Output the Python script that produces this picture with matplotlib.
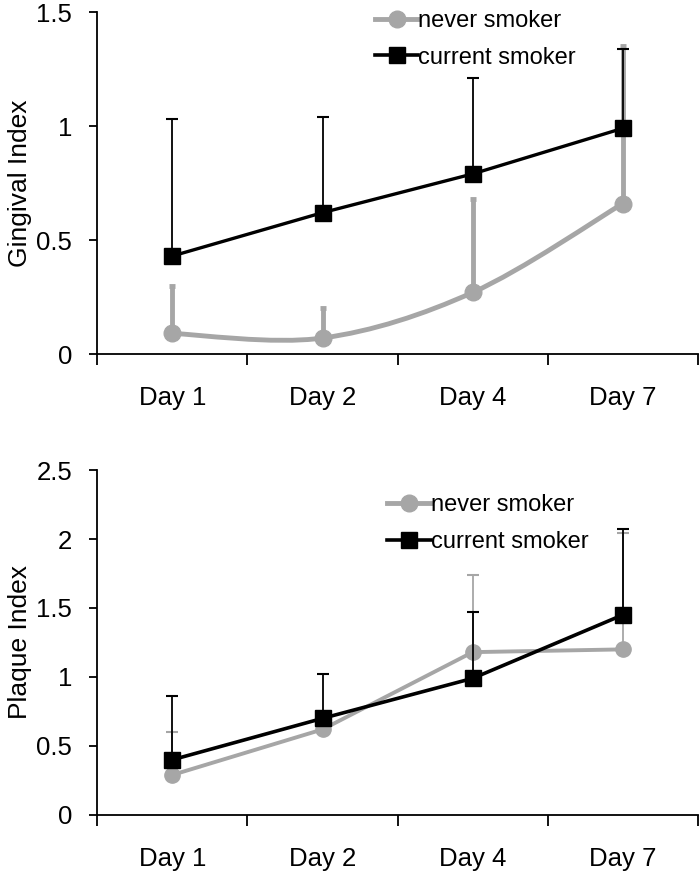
import numpy as np
import matplotlib
matplotlib.use("Agg")
import matplotlib.pyplot as plt
from matplotlib.path import Path
from matplotlib.patches import PathPatch
from matplotlib.lines import Line2D
from matplotlib.ticker import FuncFormatter

plt.rcParams['font.family'] = ['Liberation Sans', 'DejaVu Sans']

# Categories
days = ["Day 1", "Day 2", "Day 4", "Day 7"]

# Gingival index (top panel)
gi_never = [0.09, 0.07, 0.27, 0.66]
gi_never_err = [0.21, 0.13, 0.41, 0.69]
gi_current = [0.43, 0.62, 0.79, 0.99]
gi_current_err = [0.60, 0.42, 0.42, 0.35]

# Plaque index (bottom panel)
pi_never = [0.29, 0.62, 1.18, 1.20]
pi_never_err = [0.31, 0.08, 0.56, 0.84]
pi_current = [0.40, 0.70, 0.99, 1.45]
pi_current_err = [0.46, 0.32, 0.48, 0.62]

GRAY = "#a6a6a6"
BLACK = "#000000"


def smooth_path(x, y):
    # Excel-style smoothed line: cubic bezier through the points
    x = np.asarray(x, float)
    y = np.asarray(y, float)
    n = len(x)
    verts = [(x[0], y[0])]
    codes = [Path.MOVETO]
    for i in range(n - 1):
        p0 = np.array([x[max(i - 1, 0)], y[max(i - 1, 0)]])
        p1 = np.array([x[i], y[i]])
        p2 = np.array([x[i + 1], y[i + 1]])
        p3 = np.array([x[min(i + 2, n - 1)], y[min(i + 2, n - 1)]])
        c1 = p1 + (p2 - p0) / 6
        c2 = p2 - (p3 - p1) / 6
        verts += [tuple(c1), tuple(c2), tuple(p2)]
        codes += [Path.CURVE4] * 3
    return Path(verts, codes)


def style_axes(ax, ymax, ylabel):
    n = len(days)
    ax.set_xlim(-0.5, n - 0.5)
    ax.set_ylim(0, ymax)
    ax.spines['top'].set_visible(False)
    ax.spines['right'].set_visible(False)
    ax.spines['left'].set_linewidth(1.3)
    ax.spines['bottom'].set_linewidth(1.3)
    ax.set_xticks(np.arange(n + 1) - 0.5)
    ax.set_xticklabels([])
    ax.set_xticks(np.arange(n), minor=True)
    ax.set_xticklabels(days, minor=True)
    ax.tick_params(axis='x', which='major', direction='out', length=8, width=1.3)
    ax.tick_params(axis='x', which='minor', length=0, pad=23, labelsize=18.5)
    ax.set_yticks(np.arange(0, ymax + 0.01, 0.5))
    ax.yaxis.set_major_formatter(FuncFormatter(lambda v, p: "%g" % v))
    ax.tick_params(axis='y', direction='out', length=6, width=1.3, labelsize=18.5, pad=12)
    ax.set_ylabel(ylabel, fontsize=19, labelpad=3)


fig = plt.figure(figsize=(7, 8.73), dpi=100)
ax1 = fig.add_axes([0.139, 0.5945, 0.858, 0.3917])
ax2 = fig.add_axes([0.139, 0.0665, 0.858, 0.3951])
x = np.arange(len(days))

# ---- top panel ----
ax1.errorbar(x, gi_never, yerr=[np.zeros(len(x)), gi_never_err], fmt='none',
             ecolor=GRAY, elinewidth=3.5, capsize=2.5, capthick=3.5, zorder=2)
ax1.add_patch(PathPatch(smooth_path(x, gi_never), fill=False, edgecolor=GRAY,
                        lw=3.5, zorder=3))
ax1.plot(x, gi_never, 'o', color=GRAY, ms=12, zorder=3)
ax1.errorbar(x, gi_current, yerr=[np.zeros(len(x)), gi_current_err], fmt='none',
             ecolor=BLACK, elinewidth=1.3, capsize=4, capthick=1.5, zorder=4)
ax1.plot(x, gi_current, '-s', color=BLACK, lw=2.4, ms=11, zorder=5)
style_axes(ax1, 1.5, "Gingival Index")

# ---- bottom panel ----
ax2.errorbar(x, pi_never, yerr=[np.zeros(len(x)), pi_never_err], fmt='none',
             ecolor=GRAY, elinewidth=1.3, capsize=4, capthick=1.5, zorder=2)
ax2.plot(x, pi_never, '-o', color=GRAY, lw=2.8, ms=11, zorder=3)
ax2.errorbar(x, pi_current, yerr=[np.zeros(len(x)), pi_current_err], fmt='none',
             ecolor=BLACK, elinewidth=1.3, capsize=4, capthick=1.5, zorder=4)
ax2.plot(x, pi_current, '-s', color=BLACK, lw=2.6, ms=11, zorder=5)
style_axes(ax2, 2.5, "Plaque Index")

# legends
h_never = Line2D([], [], color=GRAY, lw=3.5, marker='o', ms=12)
h_curr = Line2D([], [], color=BLACK, lw=2.6, marker='s', ms=11)
for ax, anchor in [(ax1, (0.462, 1.006)), (ax2, (0.483, 0.93))]:
    ax.legend([h_never, h_curr], ["never smoker", "current smoker"], loc='upper left',
              bbox_to_anchor=anchor, frameon=False, fontsize=17, handlelength=1.85,
              handletextpad=0.0, borderpad=0, borderaxespad=0, labelspacing=0.62)

fig.savefig("out.png", dpi=100)
